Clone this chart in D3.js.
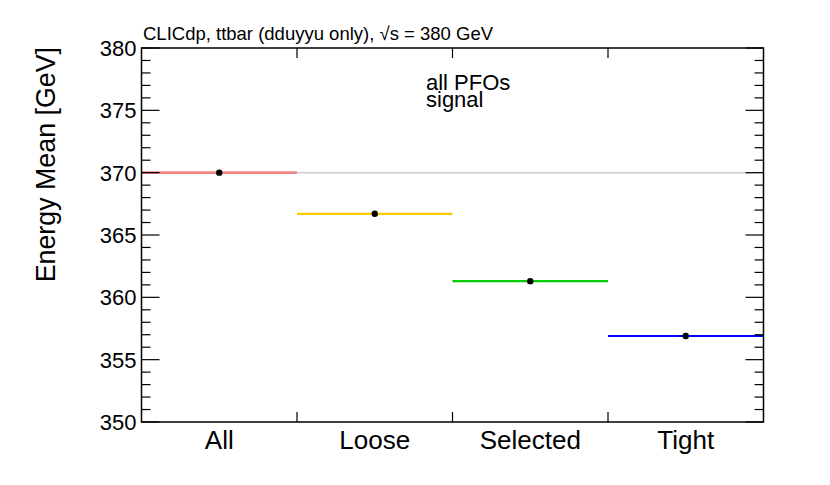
<!DOCTYPE html>
<html>
<head>
<meta charset="utf-8">
<script src="https://cdn.jsdelivr.net/npm/d3@7"></script>
<style>
  body { margin: 0; background: #fff; }
  text { font-family: "Liberation Sans", Arial, Helvetica, sans-serif; fill: #000; }
</style>
</head>
<body>
<div id="chart"></div>
<script>
// selection categories and their mean energies
const categories = ["All", "Loose", "Selected", "Tight"];
const means = [370.0, 366.7, 361.3, 356.9];
const colors = ["#f08686", "#ffcc00", "#00cc00", "#0000ff"];
const yTicks = [350, 355, 360, 365, 370, 375, 380];
const refValue = 370.0;

const width = 830, height = 485;
const margin = {left: 141.5, right: 66.5, top: 48, bottom: 63};

const svg = d3.select("#chart").append("svg")
    .attr("width", width)
    .attr("height", height);

const x = d3.scaleBand()
    .domain(categories)
    .range([margin.left, width - margin.right])
    .padding(0);

const y = d3.scaleLinear()
    .domain([350, 380])
    .range([height - margin.bottom, margin.top]);

const x0 = margin.left, x1 = width - margin.right;
const y0 = height - margin.bottom, y1 = margin.top;

// reference line across the whole frame
svg.append("line")
    .attr("x1", x0).attr("x2", x1)
    .attr("y1", y(refValue)).attr("y2", y(refValue))
    .attr("stroke", "#cccccc")
    .attr("stroke-width", 1.5);

// horizontal bars, one per category
svg.append("g").selectAll("line")
    .data(categories)
    .enter()
    .append("line")
    .attr("x1", d => x(d))
    .attr("x2", d => x(d) + x.bandwidth())
    .attr("y1", (d, i) => y(means[i]))
    .attr("y2", (d, i) => y(means[i]))
    .attr("stroke", (d, i) => colors[i])
    .attr("stroke-width", (d, i) => i == 0 ? 2.6 : 2.2);

svg.append("g").selectAll("circle")
    .data(categories)
    .enter()
    .append("circle")
    .attr("cx", d => x(d) + x.bandwidth() / 2)
    .attr("cy", (d, i) => y(means[i]))
    .attr("r", 3.2)
    .attr("fill", "#000");

// frame
svg.append("rect")
    .attr("x", x0).attr("y", y1)
    .attr("width", x1 - x0).attr("height", y0 - y1)
    .attr("fill", "none")
    .attr("stroke", "#000")
    .attr("stroke-width", 1.5);

// y ticks on both sides, minor every 1 GeV
const minor = d3.range(350, 381, 1);
const tk = svg.append("g").attr("stroke", "#000").attr("stroke-width", 1.2);
minor.forEach(v => {
    const len = v % 5 == 0 ? 18 : 9;
    tk.append("line").attr("x1", x0).attr("x2", x0 + len).attr("y1", y(v)).attr("y2", y(v));
    tk.append("line").attr("x1", x1).attr("x2", x1 - len).attr("y1", y(v)).attr("y2", y(v));
});
// x ticks at bin edges
categories.slice(1).forEach(c => {
    tk.append("line").attr("x1", x(c)).attr("x2", x(c)).attr("y1", y0).attr("y2", y0 - 10);
    tk.append("line").attr("x1", x(c)).attr("x2", x(c)).attr("y1", y1).attr("y2", y1 + 10);
});

svg.append("g").selectAll("text")
    .data(yTicks)
    .enter()
    .append("text")
    .attr("x", x0 - 5)
    .attr("y", d => y(d) + 8)
    .attr("text-anchor", "end")
    .style("font-size", "22px")
    .text(d => d);

svg.append("g").selectAll("text")
    .data(categories)
    .enter()
    .append("text")
    .attr("x", d => x(d) + x.bandwidth() / 2)
    .attr("y", 449)
    .attr("text-anchor", "middle")
    .style("font-size", "26px")
    .text(d => d);

// ROOT puts the y title flush with the top of the axis
svg.append("text")
    .attr("transform", "translate(55,47) rotate(-90)")
    .attr("text-anchor", "end")
    .style("font-size", "26.8px")
    .text("Energy Mean [GeV]");

svg.append("text")
    .attr("x", 143).attr("y", 40)
    .style("font-size", "18.5px")
    .text("CLICdp, ttbar (dduyyu only), \u221As = 380 GeV");

svg.append("text")
    .attr("x", 426).attr("y", 90)
    .style("font-size", "22px")
    .text("all PFOs");
svg.append("text")
    .attr("x", 426).attr("y", 107)
    .style("font-size", "22px")
    .text("signal");
</script>
</body>
</html>
